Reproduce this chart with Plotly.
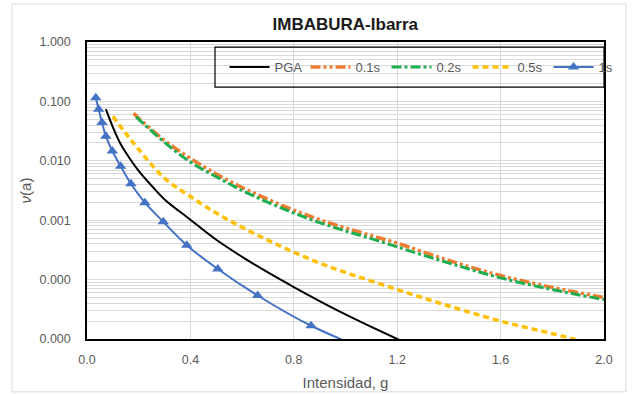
import plotly.graph_objects as go

# Annual exceedance rate vs. intensity, IMBABURA-Ibarra hazard curves
pga_x = [0.073, 0.10, 0.128, 0.15, 0.20, 0.25, 0.30, 0.40, 0.50, 0.60, 0.70, 0.80, 0.90, 1.00, 1.10, 1.20, 1.30]
pga_y = [0.074, 0.037, 0.020, 0.0138, 0.00676, 0.0038, 0.00224, 0.00102, 4.68e-4, 2.42e-4, 1.32e-4,
         7.5e-5, 4.36e-5, 2.6e-5, 1.6e-5, 1.0e-5, 6.3e-6]

s01_x = [0.18, 0.20, 0.30, 0.40, 0.50, 0.60, 0.70, 0.80, 0.90, 1.00, 1.10, 1.20, 1.40, 1.60, 1.80, 2.00]
s01_y = [0.063, 0.052, 0.022, 0.0110, 0.0060, 0.00355, 0.00224, 0.00148, 0.00102, 7.4e-4, 5.5e-4,
         4.1e-4, 2.1e-4, 1.17e-4, 7.4e-5, 5.0e-5]

s02_x = [0.19, 0.20, 0.30, 0.40, 0.50, 0.60, 0.70, 0.80, 0.90, 1.00, 1.10, 1.20, 1.40, 1.60, 1.80, 2.00]
s02_y = [0.055, 0.050, 0.0204, 0.0095, 0.0054, 0.00316, 0.0020, 0.00132, 9.1e-4, 6.6e-4, 4.9e-4,
         3.55e-4, 1.9e-4, 1.07e-4, 6.8e-5, 4.6e-5]

s05_x = [0.10, 0.15, 0.20, 0.30, 0.40, 0.50, 0.60, 0.70, 0.80, 0.90, 1.00, 1.20, 1.40, 1.60, 1.80, 2.00]
s05_y = [0.056, 0.029, 0.0155, 0.0051, 0.0025, 0.00132, 7.6e-4, 4.6e-4, 2.9e-4, 1.9e-4, 1.32e-4,
         6.8e-5, 3.6e-5, 2.0e-5, 1.23e-5, 7.4e-6]

s1_x = [0.034, 0.045, 0.058, 0.073, 0.098, 0.130, 0.170, 0.224, 0.295, 0.386, 0.506, 0.660, 0.867, 1.140]
s1_y = [0.115, 0.074, 0.044, 0.026, 0.0146, 0.0081, 0.0041, 0.00197, 9.4e-4, 3.8e-4, 1.51e-4,
        5.4e-5, 1.67e-5, 5.2e-6]

x_ticks = [0.0, 0.4, 0.8, 1.2, 1.6, 2.0]
y_ticks = [1, 0.1, 0.01, 0.001, 0.0001, 0.00001]
y_tick_text = ["1.000", "0.100", "0.010", "0.001", "0.000", "0.000"]
y_minor = [m * 10.0 ** e for e in range(-5, 0) for m in range(2, 10)]

FONT = "Liberation Sans"
GREY_TXT = "#595959"
GRID = "#d9d9d9"

fig = go.Figure()

fig.add_trace(go.Scatter(x=pga_x, y=pga_y, name="PGA", mode="lines",
                         line=dict(color="#000000", width=2, shape="spline")))
fig.add_trace(go.Scatter(x=s01_x, y=s01_y, name="0.1s", mode="lines",
                         line=dict(color="#ED7D31", width=3.5, shape="spline",
                                   dash="10px,3px,3px,3px,3px,3px")))
fig.add_trace(go.Scatter(x=s02_x, y=s02_y, name="0.2s", mode="lines",
                         line=dict(color="#1DAE50", width=3, shape="spline",
                                   dash="10px,3px,3px,3px")))
fig.add_trace(go.Scatter(x=s05_x, y=s05_y, name="0.5s", mode="lines",
                         line=dict(color="#FFC000", width=3.5, shape="spline",
                                   dash="6px,4px")))
fig.add_trace(go.Scatter(x=s1_x, y=s1_y, name="1s", mode="lines+markers",
                         line=dict(color="#4472C4", width=2, shape="spline"),
                         marker=dict(symbol="triangle-up", size=10, color="#4472C4")))

fig.update_layout(
    width=633, height=394,
    margin=dict(l=87, r=29, t=42, b=55, autoexpand=False),
    paper_bgcolor="white", plot_bgcolor="white",
    font=dict(family=FONT, size=12, color=GREY_TXT),
    title=dict(text="<b>IMBABURA-Ibarra</b>", x=0.5455, xanchor="center", y=0.94, yanchor="middle",
               font=dict(family=FONT, size=17, color="#1a1a1a")),
    showlegend=True,
    legend=dict(orientation="h", x=0.266, xanchor="left", y=0.916, yanchor="middle",
                bgcolor="rgba(0,0,0,0)", borderwidth=0,
                font=dict(family=FONT, size=13, color=GREY_TXT),
                entrywidth=26, entrywidthmode="pixels", itemwidth=40),
    xaxis=dict(range=[0, 2.0], tickmode="array", tickvals=x_ticks, tickformat=".1f",
               showgrid=True, gridcolor=GRID, gridwidth=1, zeroline=False,
               showline=True, linecolor="#000000", linewidth=1.5, mirror=True,
               ticks="", ticklabelstandoff=8,
               tickfont=dict(family=FONT, size=12.5, color=GREY_TXT),
               title=dict(text="Intensidad, g", standoff=12,
                          font=dict(family=FONT, size=15, color=GREY_TXT))),
    yaxis=dict(type="log", range=[-5, 0], tickmode="array", tickvals=y_ticks, ticktext=y_tick_text,
               showgrid=True, gridcolor=GRID, gridwidth=1, zeroline=False,
               showline=True, linecolor="#000000", linewidth=1.5, mirror=True,
               ticks="", ticklabelstandoff=12,
               minor=dict(tickmode="array", tickvals=y_minor, showgrid=True, gridcolor=GRID, gridwidth=1),
               tickfont=dict(family=FONT, size=12.5, color=GREY_TXT),
               title=dict(text="<i>ν</i>(a)", standoff=4,
                          font=dict(family=FONT, size=15, color=GREY_TXT))),
    shapes=[
        # outer chart frame
        dict(type="rect", xref="paper", yref="paper", x0=-0.145, x1=1.0425, y0=-0.178, y1=1.128,
             line=dict(color="#d9d9d9", width=1), fillcolor="rgba(0,0,0,0)", layer="below"),
        # legend frame
        dict(type="rect", xref="paper", yref="paper", x0=0.2476, x1=1.0, y0=0.848, y1=0.983,
             line=dict(color="#000000", width=1.2), fillcolor="rgba(0,0,0,0)", layer="above"),
    ],
)

fig.write_html("out.html")
